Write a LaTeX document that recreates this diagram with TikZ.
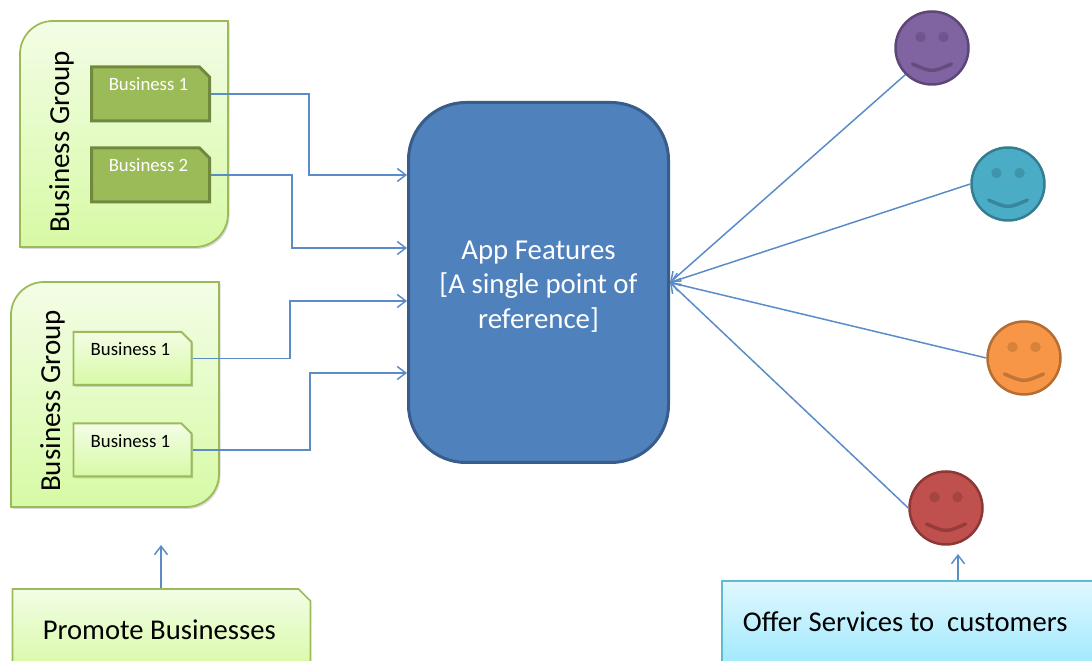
\documentclass[tikz,border=0pt]{standalone}
\usepackage{fontspec}
\setmainfont{Carlito}
\usetikzlibrary{arrows.meta,shapes.misc,shadows}

\definecolor{flowblue}{HTML}{5B8CC8}
\definecolor{appblue}{HTML}{4F81BD}
\definecolor{appline}{HTML}{385D8A}
\definecolor{leaf}{HTML}{9BBB59}
\definecolor{leafline}{HTML}{71893F}
\definecolor{palegreen}{HTML}{F3FDE6}
\definecolor{limegreen}{HTML}{D7FAA5}
\definecolor{paleblue}{HTML}{E0F8FF}
\definecolor{skyblue}{HTML}{A2E9FD}
\definecolor{skyline}{HTML}{5FBBD3}
\definecolor{facepurple}{HTML}{8064A2}
\definecolor{purpleline}{HTML}{5C4776}
\definecolor{faceteal}{HTML}{4BACC6}
\definecolor{tealline}{HTML}{357D91}
\definecolor{faceorange}{HTML}{F79646}
\definecolor{orangeline}{HTML}{B66D31}
\definecolor{facered}{HTML}{C0504D}
\definecolor{redline}{HTML}{8C3836}

\tikzset{
  flow/.style={draw=flowblue,line width=0.03cm,-{Straight Barb[length=0.17cm,width=0.26cm]}},
  softshadow/.style={drop shadow={shadow xshift=0.03cm,shadow yshift=-0.04cm,opacity=0.3}},
  groupbox/.style={draw=leaf,line width=0.035cm,top color=palegreen,bottom color=limegreen,softshadow},
  grouplabel/.style={rotate=90,font=\fontsize{16.5}{19}\selectfont},
  tabbox/.style={chamfered rectangle,chamfered rectangle corners=north east,
    chamfered rectangle xsep=0.1cm,chamfered rectangle ysep=0.1cm,inner sep=0pt,
    minimum width=2.36cm,text height=0.27cm,
    execute at end node={\hspace{0.08cm}},
    font=\fontsize{10.7}{12}\selectfont},
  darktab/.style={tabbox,minimum height=1.08cm,text depth=0.41cm,draw=leafline,line width=0.06cm,fill=leaf,text=white},
  lighttab/.style={tabbox,minimum height=1.06cm,text depth=0.37cm,draw=leaf,line width=0.04cm,top color=palegreen,bottom color=limegreen,softshadow},
  notebox/.style={inner sep=0pt,line width=0.035cm,minimum height=1.64cm,
    execute at end node={\hspace{0.09cm}},
    font=\fontsize{16.3}{19}\selectfont},
  smiley/.style 2 args={circle,inner sep=0pt,minimum size=1.46cm,draw=#2,line width=0.05cm,fill=#1,
    path picture={
      \coordinate (c) at (path picture bounding box.center);
      \fill[#2!50!#1] ([shift={(-0.23,0.22)}]c) circle (0.105);
      \fill[#2!50!#1] ([shift={(0.23,0.22)}]c) circle (0.105);
      \draw[#2!80!#1,line width=0.07cm,line cap=round] ([shift={(-0.39,-0.32)}]c) .. controls ([shift={(0,-0.49)}]c) .. ([shift={(0.39,-0.32)}]c);
    }},
}

\begin{document}
\begin{tikzpicture}
  \clip (0,0) rectangle (21.84,13.22);

  % business groups
  \draw[groupbox] (4.56,12.8) -- (1.06,12.8) arc (90:180:0.66) -- (0.4,8.28) -- (3.9,8.28) arc (270:360:0.66) -- cycle;
  \draw[groupbox] (4.38,7.58) -- (0.88,7.58) arc (90:180:0.66) -- (0.22,3.08) -- (3.72,3.08) arc (270:360:0.66) -- cycle;
  \node[grouplabel] (groupa) at (1.23,10.38) {Business Group};
  \node[grouplabel] (groupb) at (1.05,5.2) {Business Group};

  \node[darktab] (biza) at (3.01,11.34) {Business 1};
  \node[darktab] (bizb) at (3.01,9.72) {Business 2};
  \node[lighttab] (bizc) at (2.65,6.05) {Business 1};
  \node[lighttab] (bizd) at (2.65,4.22) {Business 1};

  \node[draw=appline,line width=0.06cm,fill=appblue,rounded corners=1.15cm,minimum width=5.2cm,minimum height=7.2cm] (app) at (10.77,7.57) {};
  \node[align=center,text=white,font=\fontsize{16.4}{19.7}\selectfont] (apptext) at (10.77,7.49) {App Features\\{[}A single point of\\reference{]}};

  % customers
  \node[smiley={facepurple}{purpleline}] (facea) at (18.64,12.26) {};
  \node[smiley={faceteal}{tealline}] (faceb) at (20.16,9.54) {};
  \node[smiley={faceorange}{orangeline}] (facec) at (20.48,6.06) {};
  \node[smiley={facered}{redline}] (faced) at (18.92,3.06) {};

  \node[notebox,chamfered rectangle,chamfered rectangle corners=north east,chamfered rectangle xsep=0.12cm,chamfered rectangle ysep=0.12cm,
    draw=leaf,top color=palegreen,bottom color=limegreen,minimum width=5.96cm] (promote) at (3.23,0.62) {Promote Businesses};
  \node[notebox,draw=skyline,top color=paleblue,bottom color=skyblue,minimum width=7.42cm] (offer) at (18.15,0.78) {Offer Services to\ \ customers};

  % inputs
  \coordinate (appa) at (app.west |- 0,9.72);
  \coordinate (appb) at (app.west |- 0,8.26);
  \coordinate (appc) at (app.west |- 0,7.2);
  \coordinate (appd) at (app.west |- 0,5.76);
  \draw[flow] (biza.east) -| (6.18,9.72) -- (appa);
  \draw[flow] (bizb.east) -| (5.84,8.26) -- (appb);
  \draw[flow] (bizc.east) -| (5.8,7.2) -- (appc);
  \draw[flow] (bizd.east) -| (6.2,5.76) -- (appd);

  \draw[flow] (facea.south west) -- (app.east);
  \draw[flow] (faceb.west) -- (app.east);
  \draw[flow] (facec.west) -- (app.east);
  \draw[flow] (faced.west) -- (app.east);

  \coordinate (grouptip) at (3.22,2.32);
  \coordinate (facetip) at (19.16,2.14);
  \draw[flow] (promote.north -| grouptip) -- (grouptip);
  \draw[flow] (offer.north -| facetip) -- (facetip);
\end{tikzpicture}
\end{document}
